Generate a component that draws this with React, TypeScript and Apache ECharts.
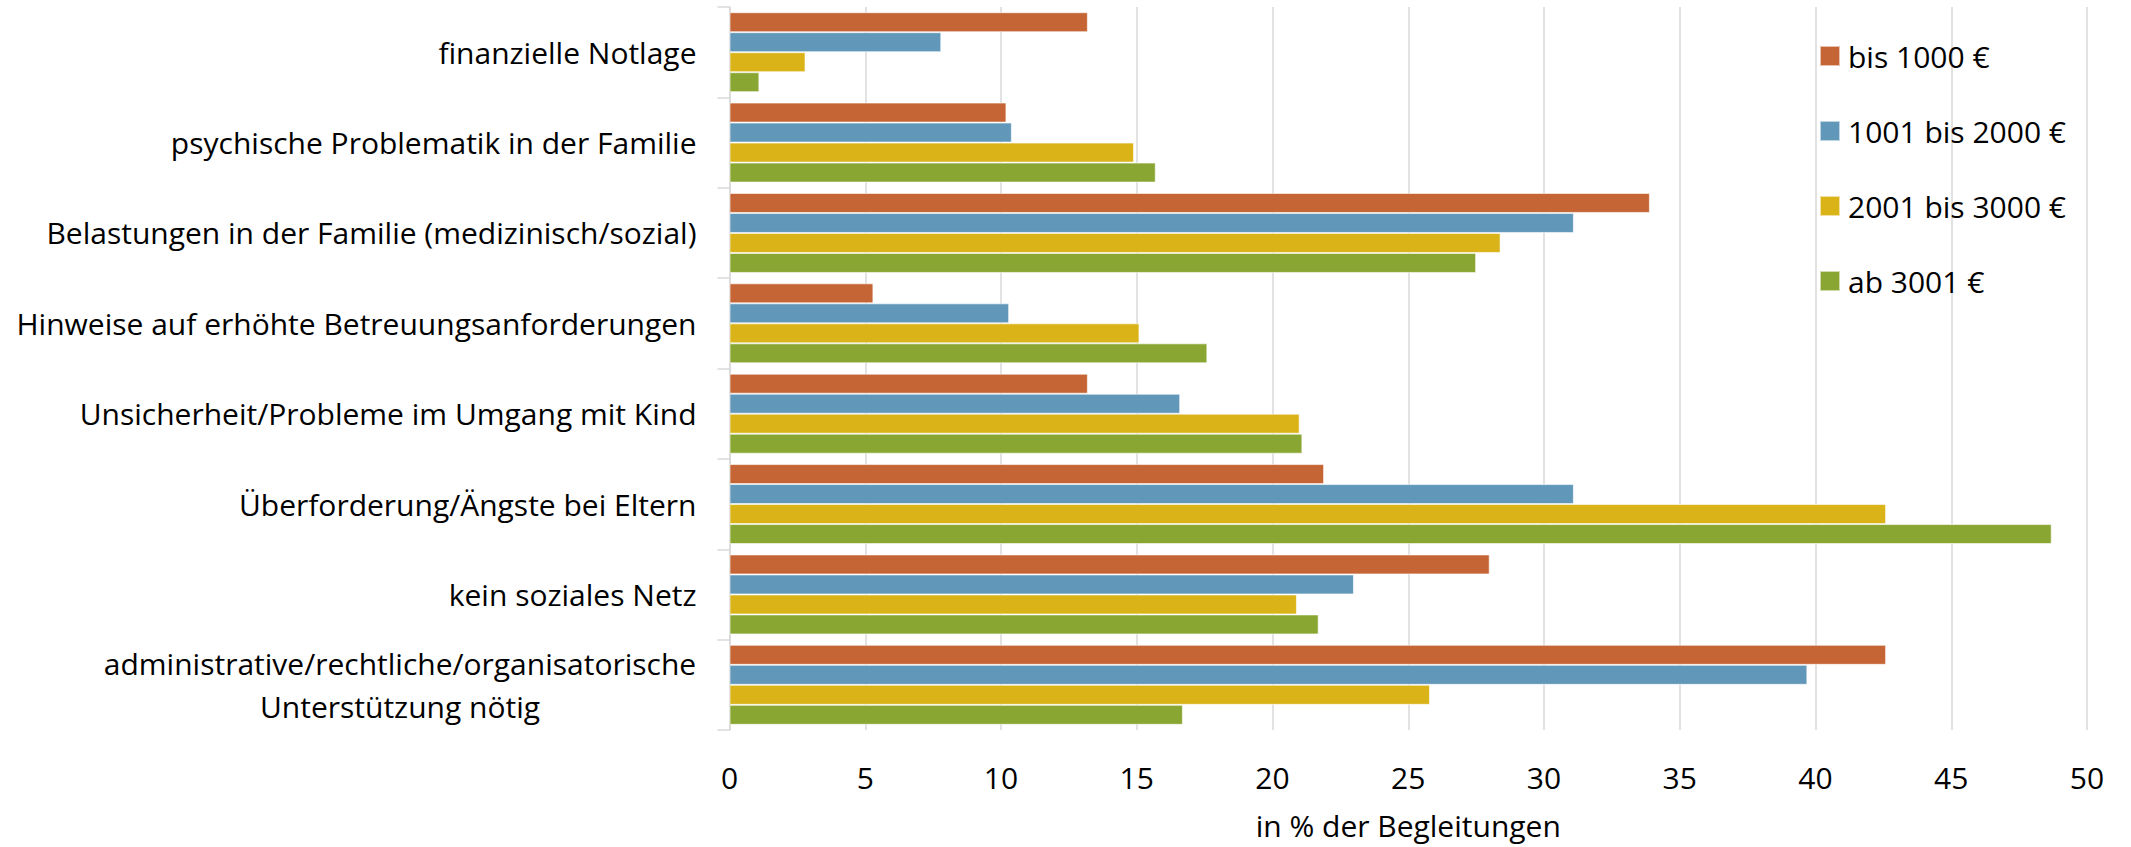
import React, { useEffect, useRef } from "react";
import * as echarts from "echarts";

const categories = [
  "finanzielle Notlage",
  "psychische Problematik in der Familie",
  "Belastungen in der Familie (medizinisch/sozial)",
  "Hinweise auf erhöhte Betreuungsanforderungen",
  "Unsicherheit/Probleme im Umgang mit Kind",
  "Überforderung/Ängste bei Eltern",
  "kein soziales Netz",
  "administrative/rechtliche/organisatorische\nUnterstützung nötig",
];

const seriesNames = ["bis 1000 €", "1001 bis 2000 €", "2001 bis 3000 €", "ab 3001 €"];

const bis1000 = [13.2, 10.2, 33.9, 5.3, 13.2, 21.9, 28.0, 42.6];
const bis2000 = [7.8, 10.4, 31.1, 10.3, 16.6, 31.1, 23.0, 39.7];
const bis3000 = [2.8, 14.9, 28.4, 15.1, 21.0, 42.6, 20.9, 25.8];
const ab3001 = [1.1, 15.7, 27.5, 17.6, 21.1, 48.7, 21.7, 16.7];

const colors = ["#C56535", "#6197B9", "#D9B318", "#8AA632"];

const FONT = "'Open Sans', 'Noto Sans', sans-serif";
const FS = 30;

export default function App() {
  const ref = useRef<HTMLDivElement>(null);

  useEffect(() => {
    document.body.style.margin = "0";
    if (!ref.current) return;
    const chart = echarts.init(ref.current, undefined, { renderer: "svg" });

    const canvas = document.createElement("canvas");
    const ctx = canvas.getContext("2d");
    let w1 = 580;
    if (ctx) {
      ctx.font = `${FS}px ${FONT}`;
      w1 = Math.ceil(ctx.measureText("administrative/rechtliche/organisatorische").width);
    }

    const data = [bis1000, bis2000, bis3000, ab3001];

    chart.setOption({
      animation: false,
      backgroundColor: "#ffffff",
      grid: { left: 729.5, right: 44, top: 7, bottom: 117, containLabel: false },
      legend: {
        orient: "vertical",
        left: 1814,
        top: 36,
        itemWidth: 20,
        itemHeight: 20,
        itemGap: 45,
        icon: "rect",
        data: seriesNames,
        textStyle: {
          fontFamily: FONT,
          fontSize: FS,
          color: "#000",
          lineHeight: 20,
          padding: [0, 0, 0, 3],
        },
      },
      xAxis: {
        type: "value",
        min: 0,
        max: 50,
        interval: 5,
        axisLine: { show: false },
        axisTick: { show: false },
        splitLine: { show: true, lineStyle: { color: "#d9d9d9", width: 1.5 } },
        axisLabel: { fontFamily: FONT, fontSize: FS, color: "#000", margin: 32 },
        name: "in % der Begleitungen",
        nameLocation: "middle",
        nameGap: 80,
        nameTextStyle: { fontFamily: FONT, fontSize: FS, color: "#000" },
      },
      yAxis: {
        type: "category",
        data: categories,
        inverse: true,
        axisLine: { show: true, lineStyle: { color: "#d9d9d9", width: 1.5 } },
        axisTick: { show: true, length: 12, lineStyle: { color: "#d9d9d9", width: 1.5 } },
        axisLabel: {
          fontFamily: FONT,
          fontSize: FS,
          color: "#000",
          margin: 33,
          lineHeight: 43,
          formatter: (v: string) => {
            if (v.indexOf("\n") >= 0) {
              const parts = v.split("\n");
              return parts.map((p) => `{c|${p}}`).join("\n");
            }
            return v;
          },
          rich: {
            c: {
              width: w1,
              align: "center",
              fontFamily: FONT,
              fontSize: FS,
              color: "#000",
              lineHeight: 43,
            },
          },
        },
      },
      series: seriesNames.map((name, i) => ({
        name,
        type: "bar",
        data: data[i],
        barWidth: 20,
        barGap: "0%",
        itemStyle: {
          color: colors[i],
          borderColor: "rgba(255,255,255,0.6)",
          borderWidth: 1,
        },
      })),
    });

    return () => chart.dispose();
  }, []);

  return <div ref={ref} style={{ width: 2131, height: 847 }} />;
}
